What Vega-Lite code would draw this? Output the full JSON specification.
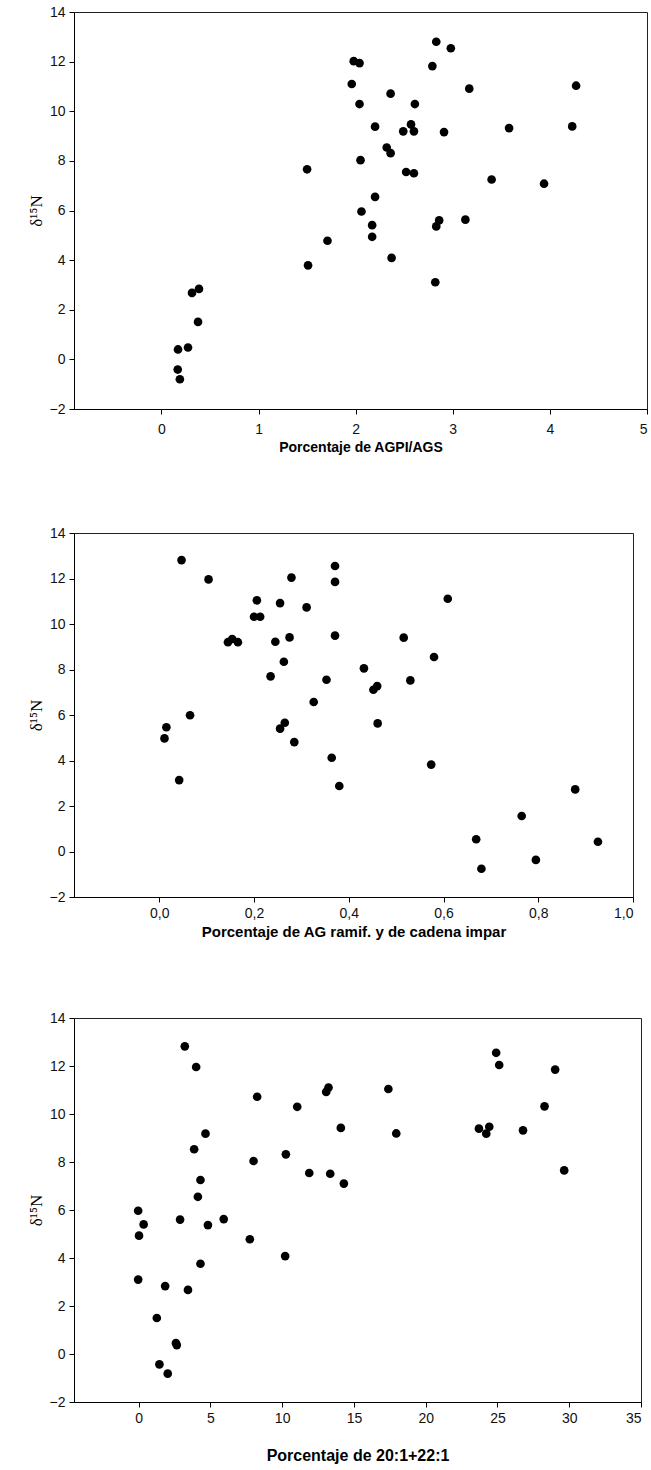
{
  "$schema": "https://vega.github.io/schema/vega-lite/v6.json",
  "background": "white",
  "padding": {"top": 4, "left": 26, "right": 0, "bottom": 5},
  "spacing": 70,
  "config": {
    "view": {"stroke": "#222", "strokeWidth": 1},
    "axis": {
      "grid": false,
      "domainColor": "black",
      "tickColor": "black",
      "tickSize": 5,
      "labelFont": "Liberation Sans",
      "labelFontSize": 14,
      "labelColor": "#111",
      "titleColor": "black",
      "labelPadding": 4
    },
    "axisY": {
      "titleFont": "Liberation Serif",
      "titleFontWeight": "normal",
      "titleFontSize": 17,
      "titlePadding": 4
    },
    "axisX": {
      "titleFont": "Liberation Sans",
      "titleFontWeight": "bold",
      "titleFontSize": 14
    }
  },
  "datasets": {
    "a": [
      {"x": 1.50, "y": 7.66}, {"x": 1.51, "y": 3.79}, {"x": 1.71, "y": 4.78}, {"x": 1.96, "y": 11.10},
      {"x": 1.98, "y": 12.02}, {"x": 2.04, "y": 11.94}, {"x": 2.04, "y": 10.29}, {"x": 2.05, "y": 8.03},
      {"x": 2.06, "y": 5.96}, {"x": 2.17, "y": 5.41}, {"x": 2.17, "y": 4.94}, {"x": 2.20, "y": 6.55},
      {"x": 2.20, "y": 9.38}, {"x": 2.32, "y": 8.54}, {"x": 2.36, "y": 8.31}, {"x": 2.36, "y": 10.71},
      {"x": 2.37, "y": 4.09}, {"x": 2.49, "y": 9.19}, {"x": 2.52, "y": 7.55}, {"x": 2.57, "y": 9.47},
      {"x": 2.60, "y": 9.19}, {"x": 2.60, "y": 7.50}, {"x": 2.61, "y": 10.29}, {"x": 2.79, "y": 11.82},
      {"x": 2.82, "y": 3.11}, {"x": 2.83, "y": 5.36}, {"x": 2.86, "y": 5.60}, {"x": 2.83, "y": 12.80},
      {"x": 2.91, "y": 9.16}, {"x": 2.98, "y": 12.54}, {"x": 3.13, "y": 5.63}, {"x": 3.17, "y": 10.91},
      {"x": 3.40, "y": 7.25}, {"x": 3.58, "y": 9.32}, {"x": 3.94, "y": 7.08}, {"x": 4.23, "y": 9.39},
      {"x": 4.27, "y": 11.03}, {"x": 0.315, "y": 2.68}, {"x": 0.387, "y": 2.84}, {"x": 0.377, "y": 1.51},
      {"x": 0.171, "y": 0.40}, {"x": 0.274, "y": 0.48}, {"x": 0.168, "y": -0.41}, {"x": 0.19, "y": -0.80}
    ],
    "b": [
      {"x": 0.047, "y": 12.81}, {"x": 0.104, "y": 11.96}, {"x": 0.279, "y": 12.04}, {"x": 0.206, "y": 11.04},
      {"x": 0.255, "y": 10.92}, {"x": 0.311, "y": 10.73}, {"x": 0.200, "y": 10.32}, {"x": 0.213, "y": 10.32},
      {"x": 0.145, "y": 9.20}, {"x": 0.154, "y": 9.34}, {"x": 0.166, "y": 9.20}, {"x": 0.245, "y": 9.22},
      {"x": 0.275, "y": 9.41}, {"x": 0.263, "y": 8.34}, {"x": 0.235, "y": 7.70}, {"x": 0.353, "y": 7.55},
      {"x": 0.326, "y": 6.57}, {"x": 0.371, "y": 12.55}, {"x": 0.371, "y": 11.85}, {"x": 0.609, "y": 11.11},
      {"x": 0.371, "y": 9.49}, {"x": 0.516, "y": 9.40}, {"x": 0.580, "y": 8.55}, {"x": 0.432, "y": 8.05},
      {"x": 0.530, "y": 7.52}, {"x": 0.452, "y": 7.11}, {"x": 0.460, "y": 7.27}, {"x": 0.011, "y": 4.97},
      {"x": 0.015, "y": 5.46}, {"x": 0.065, "y": 5.99}, {"x": 0.042, "y": 3.14}, {"x": 0.255, "y": 5.40},
      {"x": 0.265, "y": 5.66}, {"x": 0.285, "y": 4.81}, {"x": 0.364, "y": 4.12}, {"x": 0.380, "y": 2.88},
      {"x": 0.461, "y": 5.63}, {"x": 0.574, "y": 3.82}, {"x": 0.669, "y": 0.54}, {"x": 0.680, "y": -0.76},
      {"x": 0.765, "y": 1.56}, {"x": 0.795, "y": -0.37}, {"x": 0.878, "y": 2.73}, {"x": 0.926, "y": 0.43}
    ],
    "c": [
      {"x": 3.22, "y": 12.82}, {"x": 4.01, "y": 11.96}, {"x": 8.26, "y": 10.72}, {"x": 11.05, "y": 10.30},
      {"x": 13.07, "y": 10.92}, {"x": 13.23, "y": 11.10}, {"x": 4.66, "y": 9.18}, {"x": 3.87, "y": 8.53},
      {"x": 8.01, "y": 8.04}, {"x": 10.26, "y": 8.32}, {"x": 11.89, "y": 7.54}, {"x": 4.31, "y": 7.25},
      {"x": 4.13, "y": 6.55}, {"x": -0.03, "y": 5.97}, {"x": 24.91, "y": 12.55}, {"x": 25.12, "y": 12.04},
      {"x": 29.02, "y": 11.85}, {"x": 17.40, "y": 11.04}, {"x": 28.28, "y": 10.32}, {"x": 14.09, "y": 9.42},
      {"x": 17.95, "y": 9.19}, {"x": 23.71, "y": 9.39}, {"x": 24.43, "y": 9.47}, {"x": 24.22, "y": 9.18},
      {"x": 26.78, "y": 9.32}, {"x": 29.65, "y": 7.65}, {"x": 13.35, "y": 7.51}, {"x": 14.30, "y": 7.10},
      {"x": 0.35, "y": 5.40}, {"x": 0.03, "y": 4.93}, {"x": 2.89, "y": 5.60}, {"x": 4.83, "y": 5.37},
      {"x": 5.93, "y": 5.62}, {"x": 7.75, "y": 4.78}, {"x": 10.21, "y": 4.08}, {"x": 4.31, "y": 3.76},
      {"x": -0.03, "y": 3.10}, {"x": 1.85, "y": 2.83}, {"x": 3.44, "y": 2.67}, {"x": 1.27, "y": 1.50},
      {"x": 2.60, "y": 0.46}, {"x": 2.66, "y": 0.37}, {"x": 1.45, "y": -0.43}, {"x": 2.03, "y": -0.82}
    ]
  },
  "vconcat": [
    {
      "width": 573,
      "height": 397,
      "layer": [
        {
          "data": {"name": "a"},
          "mark": {"type": "circle", "size": 75, "color": "black", "opacity": 1},
          "encoding": {
            "x": {"field": "x", "type": "quantitative", "scale": {"domain": [-0.9, 5], "nice": false, "zero": false},
                  "axis": {"values": [0, 1, 2, 3, 4, 5], "format": "d", "title": "Porcentaje de AGPI/AGS", "labelPadding": 8, "titlePadding": 4}},
            "y": {"field": "y", "type": "quantitative", "scale": {"domain": [-2, 14], "nice": false},
                  "axis": {"values": [-2, 0, 2, 4, 6, 8, 10, 12, 14], "title": "δ¹⁵N"}}
          }
        },
        {
          "mark": {"type": "text", "text": "A)", "font": "Liberation Sans", "fontWeight": "bold", "fontSize": 13, "align": "left", "baseline": "middle"},
          "encoding": {
            "x": {"datum": -0.74, "type": "quantitative"},
            "y": {"datum": 12.95, "type": "quantitative"}
          }
        }
      ]
    },
    {
      "width": 559,
      "height": 364,
      "layer": [
        {
          "data": {"name": "b"},
          "mark": {"type": "circle", "size": 75, "color": "black", "opacity": 1},
          "encoding": {
            "x": {"field": "x", "type": "quantitative", "scale": {"domain": [-0.18, 1.0], "nice": false, "zero": false},
                  "axis": {"values": [0, 0.2, 0.4, 0.6, 0.8, 1.0], "labelExpr": "replace(format(datum.value, '.1f'), '.', ',')",
                           "title": "Porcentaje de AG ramif. y de cadena impar", "titleFontSize": 15, "labelPadding": 4, "titlePadding": 4}},
            "y": {"field": "y", "type": "quantitative", "scale": {"domain": [-2, 14], "nice": false},
                  "axis": {"values": [-2, 0, 2, 4, 6, 8, 10, 12, 14], "title": "δ¹⁵N"}}
          }
        },
        {
          "mark": {"type": "text", "text": "B)", "font": "Liberation Sans", "fontWeight": "bold", "fontSize": 13, "align": "left", "baseline": "middle"},
          "encoding": {
            "x": {"datum": -0.138, "type": "quantitative"},
            "y": {"datum": 12.46, "type": "quantitative"}
          }
        }
      ]
    },
    {
      "width": 567,
      "height": 384,
      "layer": [
        {
          "data": {"name": "c"},
          "mark": {"type": "circle", "size": 75, "color": "black", "opacity": 1},
          "encoding": {
            "x": {"field": "x", "type": "quantitative", "scale": {"domain": [-4.5, 35], "nice": false, "zero": false},
                  "axis": {"values": [0, 5, 10, 15, 20, 25, 30, 35], "title": "Porcentaje de 20:1+22:1", "titleFontSize": 16, "labelPadding": 4, "titlePadding": 22}},
            "y": {"field": "y", "type": "quantitative", "scale": {"domain": [-2, 14], "nice": false},
                  "axis": {"values": [-2, 0, 2, 4, 6, 8, 10, 12, 14], "title": "δ¹⁵N"}}
          }
        },
        {
          "mark": {"type": "text", "text": "C)", "font": "Liberation Sans", "fontWeight": "bold", "fontSize": 13, "align": "left", "baseline": "middle"},
          "encoding": {
            "x": {"datum": -3.54, "type": "quantitative"},
            "y": {"datum": 12.83, "type": "quantitative"}
          }
        }
      ]
    }
  ]
}
